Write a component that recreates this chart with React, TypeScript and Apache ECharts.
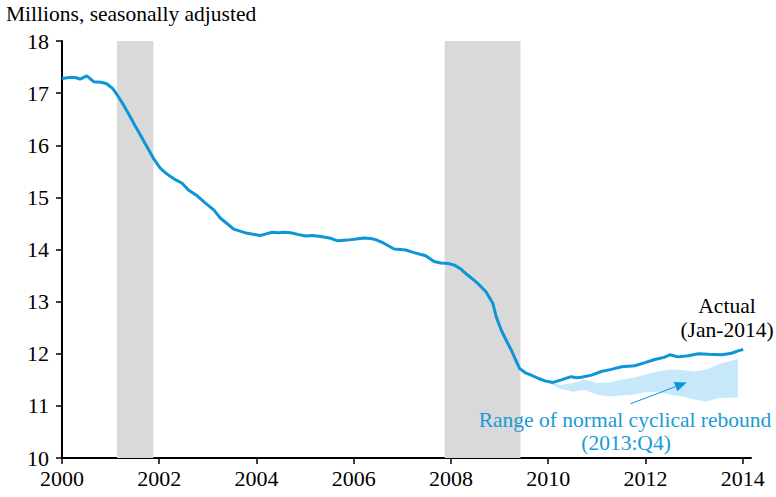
import React, { useEffect, useRef } from "react";
import * as echarts from "echarts";

const years = [
  2000.0, 2000.15, 2000.27, 2000.37, 2000.51, 2000.65, 2000.8, 2000.92, 2001.05, 2001.16,
  2001.28, 2001.4, 2001.5, 2001.61, 2001.7, 2001.78, 2001.88, 2002.02, 2002.13, 2002.23,
  2002.35, 2002.47, 2002.6, 2002.78, 2002.95, 2003.12, 2003.26, 2003.43, 2003.53, 2003.81,
  2004.08, 2004.2, 2004.32, 2004.45, 2004.56, 2004.7, 2004.85, 2005.01, 2005.15, 2005.32,
  2005.5, 2005.66, 2005.87, 2006.05, 2006.21, 2006.35, 2006.45, 2006.62, 2006.83, 2007.07,
  2007.24, 2007.48, 2007.65, 2007.79, 2007.95, 2008.07, 2008.21, 2008.34, 2008.45, 2008.55,
  2008.72, 2008.86, 2008.93, 2009.03, 2009.14, 2009.24, 2009.33, 2009.41, 2009.52, 2009.65,
  2009.79, 2009.93, 2010.1, 2010.27, 2010.47, 2010.58, 2010.68, 2010.89, 2011.09, 2011.3,
  2011.51, 2011.78, 2011.99, 2012.19, 2012.38, 2012.5, 2012.67, 2012.88, 2013.09, 2013.29,
  2013.57, 2013.77, 2013.92, 2014.01,
];
const employment = [
  17.28, 17.3, 17.3, 17.27, 17.33, 17.22, 17.21, 17.18, 17.08, 16.93,
  16.75, 16.55, 16.38, 16.2, 16.05, 15.92, 15.75, 15.56, 15.47, 15.4,
  15.33, 15.27, 15.14, 15.03, 14.89, 14.76, 14.6, 14.47, 14.39, 14.31,
  14.27, 14.3, 14.33, 14.32, 14.33, 14.32, 14.29, 14.26, 14.27, 14.25,
  14.22, 14.17, 14.18, 14.2, 14.22, 14.21, 14.19, 14.12, 14.01, 13.99,
  13.94, 13.88, 13.77, 13.74, 13.73, 13.7, 13.62, 13.51, 13.43, 13.35,
  13.19, 12.97, 12.71, 12.46, 12.25, 12.07, 11.88, 11.72, 11.64, 11.59,
  11.53, 11.48, 11.45, 11.5, 11.56, 11.54, 11.55, 11.59, 11.66, 11.7,
  11.75, 11.77, 11.83, 11.89, 11.93, 11.98, 11.94, 11.96, 12.0, 11.99,
  11.98, 12.01, 12.06, 12.08,
];

const bandYears = [
  2010.0, 2010.25, 2010.5, 2010.75, 2011.0, 2011.25, 2011.5, 2011.75,
  2012.0, 2012.25, 2012.5, 2012.75, 2013.0, 2013.25, 2013.5, 2013.9,
];
const bandLower = [
  11.44, 11.33, 11.27, 11.31, 11.22, 11.18, 11.2, 11.22,
  11.26, 11.27, 11.22, 11.18, 11.12, 11.08, 11.15, 11.16,
];
const bandUpper = [
  11.46, 11.4, 11.44, 11.5, 11.44, 11.45, 11.5, 11.54,
  11.6, 11.66, 11.7, 11.69, 11.66, 11.7, 11.8, 11.9,
];

const recessions = [
  [2001.13, 2001.88],
  [2007.87, 2009.43],
];

const xTicks = [2000, 2002, 2004, 2006, 2008, 2010, 2012, 2014];

// arrow annotation: tail and tip, in data units
const arrowTail = [2011.69, 11.04];
const arrowTip = [2012.85, 11.45];

const SERIF = "'Liberation Serif', 'Times New Roman', serif";
const BLUE = "#0c96d8";
const TXT = 21.5;

export default function App() {
  const ref = useRef<HTMLDivElement>(null);
  useEffect(() => {
    if (!ref.current) return;
    const chart = echarts.init(ref.current, undefined, { renderer: "svg" });
    const option: any = {
      animation: false,
      backgroundColor: "#ffffff",
      grid: { left: 62, right: 25, top: 41, bottom: 39, containLabel: false },
      xAxis: {
        type: "value",
        min: 2000,
        max: 2014.17,
        splitLine: { show: false },
        axisLine: { show: true, lineStyle: { color: "#000", width: 2 } },
        axisTick: {
          show: true,
          inside: false,
          length: 6,
          lineStyle: { color: "#000", width: 1.5 },
          customValues: xTicks,
        },
        axisLabel: {
          fontFamily: SERIF,
          fontSize: 22,
          color: "#000",
          margin: 9,
          customValues: xTicks,
          formatter: (v: number) => String(Math.round(v)),
        },
      },
      yAxis: {
        type: "value",
        min: 10,
        max: 18,
        interval: 1,
        splitLine: { show: false },
        axisLine: { show: true, lineStyle: { color: "#000", width: 2 } },
        axisTick: { show: true, inside: false, length: 6, lineStyle: { color: "#000", width: 1.5 } },
        axisLabel: { fontFamily: SERIF, fontSize: 22, color: "#000", margin: 13 },
      },
      series: [
        {
          type: "custom",
          name: "range",
          silent: true,
          z: 2,
          data: [0],
          renderItem: (params: any, api: any) => {
            const top = bandYears.map((y, i) => api.coord([y, bandUpper[i]]));
            const bottom = bandYears.map((y, i) => api.coord([y, bandLower[i]])).reverse();
            const t = api.coord(arrowTail);
            const p = api.coord(arrowTip);
            const dx = p[0] - t[0];
            const dy = p[1] - t[1];
            const len = Math.sqrt(dx * dx + dy * dy);
            const ux = dx / len;
            const uy = dy / len;
            const hl = 12;
            const hw = 5;
            const bx = p[0] - ux * hl;
            const by = p[1] - uy * hl;
            return {
              type: "group",
              children: [
                {
                  type: "polygon",
                  shape: { points: top.concat(bottom) },
                  style: { fill: "#c6e8fa", stroke: "none" },
                },
                {
                  type: "line",
                  shape: { x1: t[0], y1: t[1], x2: bx, y2: by },
                  style: { stroke: BLUE, lineWidth: 1 },
                },
                {
                  type: "polygon",
                  shape: {
                    points: [
                      [p[0], p[1]],
                      [bx - uy * hw, by + ux * hw],
                      [bx + uy * hw, by - ux * hw],
                    ],
                  },
                  style: { fill: BLUE, stroke: "none" },
                },
              ],
            };
          },
        },
        {
          type: "line",
          name: "Actual",
          data: years.map((y, i) => [y, employment[i]]),
          showSymbol: false,
          lineStyle: { color: BLUE, width: 3 },
          z: 5,
          markArea: {
            silent: true,
            itemStyle: { color: "#d9d9d9" },
            data: recessions.map(([a, b]) => [{ xAxis: a }, { xAxis: b }]),
          },
        },
      ],
      graphic: [
        {
          type: "text",
          left: 6,
          top: 3,
          z: 100,
          style: { text: "Millions, seasonally adjusted", font: `${TXT}px ${SERIF}`, fill: "#000" },
        },
        {
          type: "text",
          x: 727,
          y: 306,
          z: 100,
          style: { text: "Actual", font: `${TXT}px ${SERIF}`, fill: "#000", align: "center", verticalAlign: "middle" },
        },
        {
          type: "text",
          x: 727,
          y: 330,
          z: 100,
          style: { text: "(Jan-2014)", font: `${TXT}px ${SERIF}`, fill: "#000", align: "center", verticalAlign: "middle" },
        },
        {
          type: "text",
          x: 625,
          y: 420,
          z: 100,
          style: {
            text: "Range of normal cyclical rebound",
            font: `${TXT}px ${SERIF}`,
            fill: "#1a9ad6",
            align: "center",
            verticalAlign: "middle",
          },
        },
        {
          type: "text",
          x: 626,
          y: 443,
          z: 100,
          style: { text: "(2013:Q4)", font: `${TXT}px ${SERIF}`, fill: "#1a9ad6", align: "center", verticalAlign: "middle" },
        },
      ],
    };
    chart.setOption(option);
    return () => chart.dispose();
  }, []);
  return (
    <div
      ref={ref}
      style={{ position: "absolute", left: 0, top: 0, width: 776, height: 497 }}
    />
  );
}
